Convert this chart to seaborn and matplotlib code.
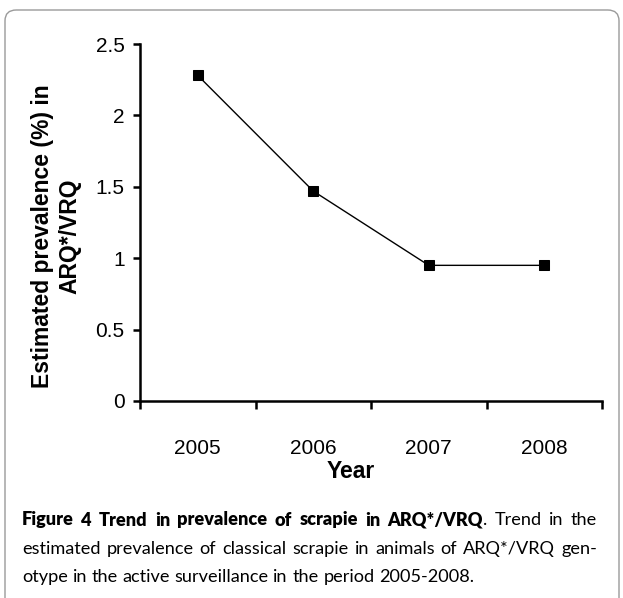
import matplotlib
matplotlib.use("Agg")
import matplotlib.pyplot as plt
import seaborn as sns
import pandas as pd
from matplotlib.patches import FancyBboxPatch

years = ["2005", "2006", "2007", "2008"]
prevalence = [2.28, 1.47, 0.95, 0.95]
y_ticks = [0, 0.5, 1, 1.5, 2, 2.5]
y_tick_labels = ["0", "0.5", "1", "1.5", "2", "2.5"]

sns.set_theme(style="white")
plt.rcParams["font.family"] = ["Liberation Sans", "DejaVu Sans"]

W, H = 623, 598
fig = plt.figure(figsize=(W / 100, H / 100), dpi=100)
fig.patch.set_facecolor("white")

# rounded frame
frame = FancyBboxPatch((5 / W, 1 - 640 / H), 614 / W, 630 / H,
                       boxstyle="round,pad=0,rounding_size=0.018",
                       transform=fig.transFigure, facecolor="white",
                       edgecolor="#9a9a9a", linewidth=1.0, zorder=-10)
fig.patches.append(frame)

ax = fig.add_axes([140 / W, 1 - 401 / H, 462 / W, 357 / H])
ax.set_facecolor("none")
ax.set_zorder(5)

df = pd.DataFrame({"Year": years, "Prevalence": prevalence})
sns.lineplot(data=df, x="Year", y="Prevalence", ax=ax, color="black",
             marker="s", markersize=7.5, markeredgecolor="black",
             markerfacecolor="black", linewidth=1.0, sort=False)

ax.set_xlim(-0.5, 3.5)
ax.set_ylim(0, 2.5)

# x ticks at category boundaries, labels at centers
ax.set_xticks([-0.5, 0.5, 1.5, 2.5, 3.5])
ax.set_xticklabels([])
ax.set_xticks([0, 1, 2, 3], minor=True)
ax.set_xticklabels(years, minor=True)
ax.tick_params(axis="x", which="major", direction="out", length=5.5,
               width=1.8, color="black", bottom=True)
ax.tick_params(axis="x", which="minor", length=0, pad=27, labelsize=15,
               labelcolor="black")

ax.set_yticks(y_ticks)
ax.set_yticklabels(y_tick_labels)
ax.tick_params(axis="y", which="major", direction="out", length=5,
               width=1.8, color="black", left=True, pad=6, labelsize=15,
               labelcolor="black")

for s in ["top", "right"]:
    ax.spines[s].set_visible(False)
for s in ["left", "bottom"]:
    ax.spines[s].set_visible(True)
    ax.spines[s].set_color("black")
    ax.spines[s].set_linewidth(1.8)

ax.set_xlabel("Year", fontsize=16.5, fontweight="bold", color="black",
              va="center")
ax.xaxis.set_label_coords((351 - 140) / 462, (401 - 471) / 357)
ax.set_ylabel("Estimated prevalence (%) in\nARQ*/VRQ", fontsize=16.5,
              fontweight="bold", color="black", va="center",
              multialignment="center", linespacing=1.25)
ax.yaxis.set_label_coords((56 - 140) / 462, 1 - (236 - 44) / 357)

# caption (justified)
cap_font = ["Lato", "DejaVu Sans"]
renderer = fig.canvas.get_renderer()
line2 = "estimated prevalence of classical scrapie in animals of ARQ*/VRQ gen-"
line3 = "otype in the active surveillance in the period 2005-2008."
bold_part = "Figure 4 Trend in prevalence of scrapie in ARQ*/VRQ"
reg_part = ". Trend in the"

cap_size = 14.0
probe = fig.text(0, 0, line3, fontsize=cap_size, family=cap_font)
w = probe.get_window_extent(renderer).width
probe.remove()
cap_size = cap_size * (455 / w)
BOLD = "heavy"


def measure(s, weight):
    t = fig.text(0, 0, s, fontsize=cap_size, family=cap_font, fontweight=weight)
    ww = t.get_window_extent(renderer).width
    t.remove()
    return ww


def justified(tokens, ypix, x_left, x_right, justify=True):
    # tokens: list of (word, weight, space_before)
    widths = [measure(wd, wt) for wd, wt, _ in tokens]
    nspaces = sum(1 for _, _, sp in tokens if sp)
    total = sum(widths)
    base_space = measure("a a", "normal") - measure("aa", "normal")
    if justify and nspaces:
        space = (x_right - x_left - total) / nspaces
    else:
        space = base_space
    x = x_left
    for (wd, wt, sp), ww in zip(tokens, widths):
        if sp:
            x += space
        fig.text(x / W, 1 - ypix / H, wd, fontsize=cap_size, family=cap_font,
                 fontweight=wt, va="center", ha="left", color="black")
        x += ww


tok1 = []
for i, wd in enumerate(bold_part.split(" ")):
    tok1.append((wd, BOLD, i > 0))
rw = reg_part.split(" ")
tok1.append((rw[0], "normal", False))
for wd in rw[1:]:
    tok1.append((wd, "normal", True))
tok2 = [(wd, "normal", i > 0) for i, wd in enumerate(line2.split(" "))]
tok3 = [(wd, "normal", i > 0) for i, wd in enumerate(line3.split(" "))]

justified(tok1, 520, 22, 597)
justified(tok2, 549, 22, 597)
justified(tok3, 577, 22, 597, justify=False)

fig.savefig("out.png", dpi=100)
